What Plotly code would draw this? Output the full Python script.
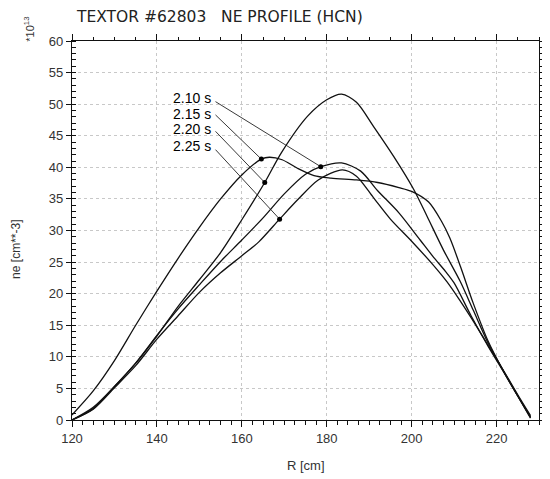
import numpy as np
import plotly.graph_objects as go

# density profiles, R in cm, ne in 1e13 cm^-3
r_210 = [120, 125, 130, 135, 140, 145, 150, 155, 160, 165, 170, 175, 178.6, 183.5,
         188, 192, 197, 202, 205, 208, 210, 214, 218, 221.5, 225, 228]
ne_210 = [0, 1.8, 5.3, 9.0, 13.4, 17.6, 21.4, 25.1, 28.5, 32.0, 35.8, 38.9, 40.1, 40.7,
          39.4, 36.3, 32.8, 28.5, 25.9, 23.5, 21.7, 16.5, 11.7, 7.8, 3.8, 0.5]

r_215 = [120, 125, 130, 135, 140, 145, 150, 155, 160, 164.6, 166.5, 169.5, 173, 177, 181,
         187, 192, 197, 200, 204, 207, 209, 211.5, 214.5, 218, 221.5, 225, 228]
ne_215 = [0.8, 4.6, 9.4, 15.0, 20.4, 25.6, 30.5, 35.0, 38.8, 41.3, 41.6, 41.2, 39.9, 38.7, 38.3,
          38.0, 37.6, 36.8, 36.2, 34.5, 31.5, 28.8, 24.3, 18.5, 12.5, 7.9, 3.8, 0.4]

r_220 = [120, 125, 130, 135, 140, 145, 150, 155, 160, 165.4, 169.3, 175.5, 180, 183.5,
         187, 191, 195.8, 200.5, 203.6, 207.5, 211.4, 214.5, 218, 221.5, 225, 228]
ne_220 = [0, 2.0, 5.3, 9.0, 13.3, 18.0, 22.2, 26.5, 31.7, 37.6, 42.3, 48.1, 50.7, 51.6,
          50.3, 46.5, 41.7, 36.5, 32.3, 26.9, 22.0, 17.4, 12.2, 7.9, 3.8, 0.3]

r_225 = [120, 125, 130, 135, 140, 145, 150, 155, 160, 164, 168.9, 173.2, 178, 183.7,
         187, 191, 195, 200, 205, 208.3, 211, 214, 218.4, 221.5, 225, 228]
ne_225 = [0, 1.7, 5.1, 8.6, 12.8, 16.5, 20.2, 23.3, 26.0, 28.2, 31.8, 34.9, 38.0, 39.6,
          38.6, 35.2, 31.8, 28.3, 24.6, 21.9, 19.3, 16.2, 11.4, 8.0, 4.0, 0.7]

labels = ["2.10 s", "2.15 s", "2.20 s", "2.25 s"]
label_ne = [51.0, 48.5, 46.0, 43.3]      # text rows
leader_ne = [50.4, 48.3, 45.7, 42.8]     # where the leader leaves the text
dot_r = [178.6, 164.6, 165.4, 168.9]     # where the leader meets its curve
label_r = 153.3

curves = [(r_210, ne_210), (r_215, ne_215), (r_220, ne_220), (r_225, ne_225)]

fig = go.Figure()

for r, ne in curves:
    fig.add_trace(go.Scatter(x=r, y=ne, mode="lines",
                             line=dict(color="#111", width=1.3, shape="spline", smoothing=0.8),
                             showlegend=False, hoverinfo="skip"))

for i, (r, ne) in enumerate(curves):
    dy = float(np.interp(dot_r[i], r, ne))
    fig.add_trace(go.Scatter(x=[label_r + 0.5, dot_r[i]], y=[leader_ne[i], dy], mode="lines",
                             line=dict(color="#222", width=0.9),
                             showlegend=False, hoverinfo="skip"))
    fig.add_trace(go.Scatter(x=[dot_r[i]], y=[dy], mode="markers",
                             marker=dict(color="#000", size=5),
                             showlegend=False, hoverinfo="skip"))
    fig.add_annotation(x=label_r, y=label_ne[i], text=labels[i], showarrow=False,
                       xanchor="right", yanchor="middle",
                       font=dict(family="Liberation Sans", size=14, color="#000"))

# dummy trace so the top / right frame axes get drawn
fig.add_trace(go.Scatter(x=[120], y=[0], xaxis="x2", yaxis="y2", mode="markers",
                         marker=dict(opacity=0), showlegend=False, hoverinfo="skip"))

tickfont = dict(family="Liberation Sans", size=13, color="#333")

# page body has an 8px margin, so the figure is 8px smaller than the window
fig.update_layout(
    width=542, height=471,
    margin=dict(l=64, r=7, t=33, b=59),
    paper_bgcolor="white", plot_bgcolor="white",
    xaxis=dict(range=[120, 230], tickvals=[120, 140, 160, 180, 200, 220],
               ticks="outside", ticklen=6, tickwidth=1, tickcolor="#111",
               minor=dict(dtick=2.5, ticks="outside", ticklen=4, tickcolor="#111",
                          showgrid=False),
               showline=True, linecolor="#111", linewidth=1.3,
               showgrid=True, gridcolor="#c8c8c8", griddash="dot", gridwidth=1,
               zeroline=False, tickfont=tickfont),
    yaxis=dict(range=[0, 60], dtick=5, ticks="outside", ticklen=5, tickwidth=1,
               tickcolor="#111",
               minor=dict(dtick=1, ticks="inside", ticklen=4, tickcolor="#111",
                          showgrid=False),
               showline=True, linecolor="#111", linewidth=1.3,
               showgrid=True, gridcolor="#c8c8c8", griddash="dot", gridwidth=1,
               zeroline=False, tickfont=tickfont),
    xaxis2=dict(range=[120, 230], overlaying="x", side="top", anchor="y",
                tickvals=[120, 140, 160, 180, 200, 220], ticks="outside", ticklen=6,
                tickcolor="#111", showticklabels=False,
                minor=dict(dtick=5, ticks="outside", ticklen=3, tickcolor="#111"),
                showline=True, linecolor="#111", linewidth=1.3,
                showgrid=False, zeroline=False),
    yaxis2=dict(range=[0, 60], overlaying="y", side="right", anchor="x",
                dtick=5, ticks="outside", ticklen=4, tickcolor="#111",
                showticklabels=False,
                minor=dict(dtick=1, ticks="outside", ticklen=4, tickcolor="#111"),
                showline=True, linecolor="#111", linewidth=1.3,
                showgrid=False, zeroline=False),
)

fig.add_annotation(xref="paper", yref="paper", x=0.004, y=1.064,
                   text="TEXTOR #62803   NE PROFILE (HCN)", showarrow=False,
                   xanchor="left", yanchor="middle",
                   font=dict(family="DejaVu Sans", size=15.5, color="#222"))
fig.add_annotation(xref="paper", yref="paper", x=-0.092, y=1.03,
                   text="*10<sup>13</sup>", showarrow=False, textangle=-90,
                   xanchor="center", yanchor="middle",
                   font=dict(family="Liberation Sans", size=11, color="#333"))
fig.add_annotation(xref="paper", yref="paper", x=-0.119, y=0.45,
                   text="ne [cm**-3]", showarrow=False, textangle=-90,
                   xanchor="center", yanchor="middle",
                   font=dict(family="Liberation Sans", size=12, color="#333"))
fig.add_annotation(xref="paper", yref="paper", x=0.5, y=-0.12,
                   text="R [cm]", showarrow=False, xanchor="center", yanchor="middle",
                   font=dict(family="Liberation Sans", size=13, color="#333"))

fig.write_html("out.html")
